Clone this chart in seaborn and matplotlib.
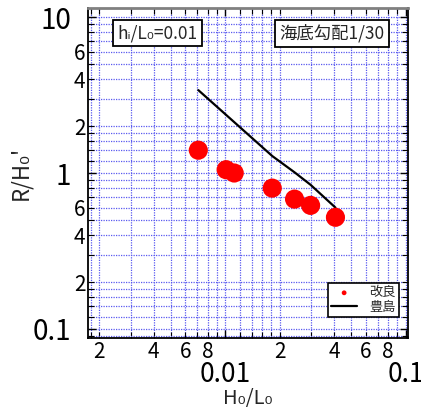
"""Run-up ratio R/H0' against wave steepness H0/L0 (log-log), hi/L0 = 0.01, slope 1/30."""

import matplotlib
matplotlib.use("Agg")
import matplotlib.pyplot as plt
import numpy as np
import pandas as pd
import seaborn as sns
from matplotlib import font_manager
from matplotlib.ticker import FixedLocator, FuncFormatter

# measured points (改良)
steepness = [0.00708, 0.0101, 0.0112, 0.0182, 0.0242, 0.0297, 0.0408]
runup = [1.40, 1.05, 1.00, 0.80, 0.68, 0.62, 0.52]

# reference curve (豊島)
curve_steepness = [0.00708, 0.0182, 0.0242, 0.0297, 0.0408]
curve_runup = [3.40, 1.285, 1.01, 0.84, 0.60]

x_major_labels = {0.01: "0.01", 0.1: "0.1"}
y_major_labels = {0.1: "0.1", 1.0: "1", 10.0: "10"}

FONT = ["Noto Sans CJK JP", "DejaVu Sans"]
names = {f.name for f in font_manager.fontManager.ttflist}
NARROW = "Liberation Sans Narrow" if "Liberation Sans Narrow" in names else "Noto Sans CJK JP"

sns.set_style("ticks")
plt.rcParams["font.family"] = FONT

pts = pd.DataFrame({"H0/L0": steepness, "R/H0'": runup})
crv = pd.DataFrame({"H0/L0": curve_steepness, "R/H0'": curve_runup})

fig = plt.figure(figsize=(4.21, 4.09), dpi=100)
ax = fig.add_axes([0.209, 0.1736, 0.76, 0.8064])

sns.lineplot(data=crv, x="H0/L0", y="R/H0'", color="black", linewidth=1.6,
             ax=ax, label="豊島", zorder=3, sort=False)
sns.scatterplot(data=pts, x="H0/L0", y="R/H0'", color="red", s=190,
                edgecolor="none", ax=ax, label="改良", zorder=4)

ax.set_xscale("log")
ax.set_yscale("log")
ax.set_xlim(0.00173, 0.103)
ax.set_ylim(0.0875, 11.4)

mants = [1.2, 1.4, 1.6, 1.8, 2, 3, 4, 5, 6, 7, 8, 9]
decades = [0.001, 0.01, 0.1, 1, 10]
minor_vals = [m * d for d in decades for m in mants]


def minor_fmt(keep):
    def f(v, pos):
        m = v / 10 ** np.floor(np.log10(v) + 1e-9)
        for k in keep:
            if abs(m - k) < 1e-6:
                return str(k)
        return ""
    return f


ax.xaxis.set_major_locator(FixedLocator(list(x_major_labels)))
ax.xaxis.set_major_formatter(FuncFormatter(lambda v, p: x_major_labels.get(round(v, 6), "")))
ax.xaxis.set_minor_locator(FixedLocator(minor_vals))
ax.xaxis.set_minor_formatter(FuncFormatter(minor_fmt([2, 4, 6, 8])))

ax.yaxis.set_major_locator(FixedLocator(list(y_major_labels)))
ax.yaxis.set_major_formatter(FuncFormatter(lambda v, p: y_major_labels.get(round(v, 6), "")))
ax.yaxis.set_minor_locator(FixedLocator(minor_vals))
ax.yaxis.set_minor_formatter(FuncFormatter(minor_fmt([2, 4, 6])))

ax.tick_params(which="both", direction="in", top=True, right=True, colors="black")
ax.tick_params(which="major", length=6, width=1)
ax.tick_params(which="minor", length=4, width=0.8)
ax.tick_params(axis="x", which="major", labelsize=19, pad=16.5)
ax.tick_params(axis="x", which="minor", labelsize=15, pad=2)
ax.tick_params(axis="y", which="major", labelsize=20, pad=12)
ax.tick_params(axis="y", which="minor", labelsize=15, pad=2)
for lab in ax.get_xticklabels(which="both") + ax.get_yticklabels(which="both"):
    lab.set_family(NARROW)

ax.grid(which="both", color="#5a5af0", linestyle=(0, (1, 1)), linewidth=0.9)
ax.set_axisbelow(True)

for side in ("left", "bottom", "right"):
    ax.spines[side].set_color("black")
    ax.spines[side].set_linewidth(1.3)
ax.spines["top"].set_color("#808080")
ax.spines["top"].set_linewidth(2)

ax.set_xlabel("H₀/L₀", fontsize=14.5, family=[NARROW, "DejaVu Sans"])
ax.set_ylabel("R/H₀'", fontsize=16, family=[NARROW, "DejaVu Sans"])
ax.yaxis.set_label_coords(-0.175, 0.5)

box = dict(boxstyle="square,pad=0.25", facecolor="white", edgecolor="black", linewidth=1.3)
ax.text(0.092, 0.952, "hᵢ/L₀=0.01", transform=ax.transAxes, fontsize=12.5,
        va="top", ha="left", bbox=box, zorder=5)
ax.text(0.598, 0.952, "海底勾配1/30", transform=ax.transAxes, fontsize=12.5,
        va="top", ha="left", bbox=box, zorder=5)

handles, labels = ax.get_legend_handles_labels()
order = [labels.index("改良"), labels.index("豊島")]
leg = ax.legend([handles[i] for i in order], [labels[i] for i in order],
                loc="lower right", bbox_to_anchor=(0.972, 0.064), borderaxespad=0,
                fontsize=9.5, frameon=True, fancybox=False, edgecolor="black",
                framealpha=1, handlelength=2.0, handletextpad=0.9, borderpad=0.25,
                labelspacing=0.1, markerscale=0.25)
leg.get_frame().set_linewidth(1.2)

# put the x label just under the big "0.01" label, but keep it inside the figure
fig.canvas.draw()
rend = fig.canvas.get_renderer()
major_bottom = min(t.get_window_extent(rend).y0 for t in ax.get_xticklabels()
                   if t.get_text())
lab_h = ax.xaxis.label.get_window_extent(rend).height
top_px = min(major_bottom - 0.5, lab_h + 4)
ax_bb = ax.get_window_extent(rend)
ax.xaxis.set_label_coords(0.5, (top_px - ax_bb.y0) / ax_bb.height)

fig.savefig("out.png", dpi=100)
